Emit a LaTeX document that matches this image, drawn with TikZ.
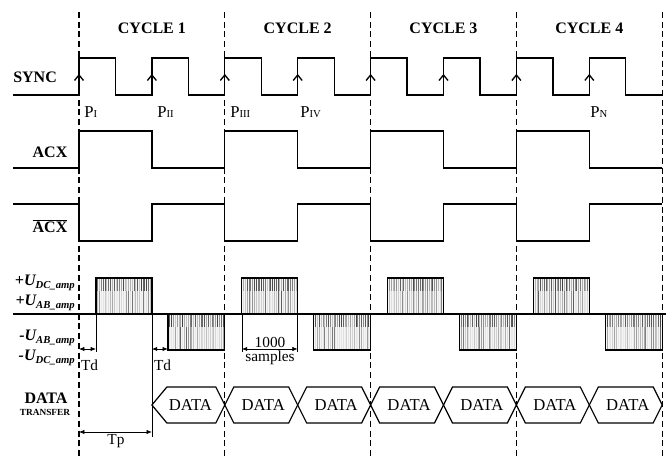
\documentclass[tikz,border=0pt]{standalone}
\usepackage{fontspec}
\setmainfont{Liberation Serif}
\usetikzlibrary{arrows.meta}

% one amplitude burst: left x, right x, outer level, top of the darker band
\newcommand{\burst}[4]{%
  \pgfmathsetmacro{\ba}{#1}
  \pgfmathsetmacro{\bb}{#2}
  \fill[black!4] (\ba,314) rectangle (\bb,#3);
  \foreach \k in {1,...,30}{
    \pgfmathsetmacro{\bx}{\ba+\k*(\bb-\ba)/31}
    \pgfmathtruncatemacro{\bg}{8+62*rnd*rnd}
    \draw[black!\bg, line width=0.5pt] (\bx,314) -- (\bx,#3);
    \pgfmathtruncatemacro{\bh}{20+55*rnd}
    \draw[black!\bh, line width=0.5pt] (\bx,#4) -- (\bx,#4+13);
  }
  \draw[sig] (\ba,314) -- (\ba,#3) -- (\bb,#3) -- (\bb,314);
}

\begin{document}
\begin{tikzpicture}[x=0.75pt, y=-0.75pt,
  font=\fontsize{11.5}{13}\selectfont,
  sig/.style={line width=1pt},
  cyc/.style={line width=0.9pt, dash pattern=on 4.5pt off 2.8pt},
  lbl/.style={font=\bfseries\fontsize{12}{14}\selectfont},
  vlt/.style={font=\bfseries\itshape\fontsize{12}{14}\selectfont, anchor=east, inner sep=1pt},
  pl/.style={font=\fontsize{12.5}{14}\selectfont, anchor=west, inner sep=0pt},
  guide/.style={line width=0.45pt},
  dim/.style={{Latex[length=4pt,width=3.2pt]}-{Latex[length=4pt,width=3.2pt]}, line width=0.5pt},
  hexa/.style={line width=0.9pt},
  syncmark/.style={line width=1pt},
]
\useasboundingbox (0,0) rectangle (669,459);
\pgfmathsetseed{17}

\def\tc{145.8} % cycle width
\def\th{72.9}  % half cycle

%% --- Cycle borders and headers ---
\foreach \k in {0,...,4}
  \draw[cyc] ({79+\tc*\k},12) -- ({79+\tc*\k},459);
\foreach \k in {1,...,4}
  \node[lbl] (cyc\k) at ({79+\tc*(\k-1)+\th},28) {CYCLE \k};

%% --- SYNC ---
\node[lbl, anchor=west, inner sep=0pt] (sync) at (13,77) {SYNC};
\draw[sig] (13,95) \foreach \k in {0,...,7}{
  -- ({79+\th*\k},95) -- ({79+\th*\k},58) -- ({79+\th*\k+36.5},58) -- ({79+\th*\k+36.5},95)
} -- (662,95);
% rising-edge marks
\foreach \k in {0,...,7}
  \draw[syncmark] ({79+\th*\k-4.5},80.5) -- ({79+\th*\k},75) -- ({79+\th*\k+4.5},80.5);
\node[pl] (p1) at (84,112) {P{\fontsize{8}{9}\selectfont I}};
\node[pl] (p2) at (157,112) {P{\fontsize{8}{9}\selectfont II}};
\node[pl] (p3) at (230,112) {P{\fontsize{8}{9}\selectfont III}};
\node[pl] (p4) at (300,112) {P{\fontsize{8}{9}\selectfont IV}};
\node[pl] (pn) at (590,112) {P{\fontsize{8}{9}\selectfont N}};

%% --- ACX and its inverse ---
\node[lbl] (acx) at (50,152) {ACX};
\draw[sig] (13,168) \foreach \k in {0,...,3}{
  -- ({79+\tc*\k},168) -- ({79+\tc*\k},131) -- ({79+\tc*\k+\th},131) -- ({79+\tc*\k+\th},168)
} -- (662,168);
\node[lbl] (acxn) at (50,226) {$\overline{\mbox{ACX}}$};
\draw[sig] (13,204) \foreach \k in {0,...,3}{
  -- ({79+\tc*\k},204) -- ({79+\tc*\k},241) -- ({79+\tc*\k+\th},241) -- ({79+\tc*\k+\th},204)
} -- (662,204);

%% --- Output amplitude ---
\node[vlt] (udcp) at (77,283) {+U\textsubscript{DC\_amp}};
\node[vlt] (uabp) at (77,303) {+U\textsubscript{AB\_amp}};
\node[vlt] (uabn) at (77,338) {-U\textsubscript{AB\_amp}};
\node[vlt] (udcn) at (77,358) {-U\textsubscript{DC\_amp}};
\foreach \k in {0,...,3}{
  \pgfmathsetmacro{\xa}{79+\tc*\k}
  \burst{\xa+17}{\xa+\th}{278}{278}
  \burst{\xa+\th+16}{\xa+\tc}{350}{314}
}
\draw[sig] (13,314) -- (666,314);

% delays and burst length
\draw[guide] (96,314) -- (96,352);
\draw[guide] (151.9,314) -- (151.9,437);
\draw[guide] (241.9,314) -- (241.9,352);
\draw[guide] (297.7,314) -- (297.7,352);
\coordinate (tda) at (79,349);
\coordinate (tdb) at (96,349);
\coordinate (tdc) at (151.9,349);
\coordinate (tdd) at (167.9,349);
\coordinate (sma) at (241.9,349);
\coordinate (smb) at (297.7,349);
\coordinate (tpa) at (79,432);
\coordinate (tpb) at (151.9,432);
\draw[dim] (tda) -- (tdb);
\draw[dim] (tdc) -- (tdd);
\draw[dim] (sma) -- (smb);
\draw[dim] (tpa) -- (tpb);
\node[anchor=west, inner sep=1pt] (td1) at (79.5,365) {Td};
\node[anchor=west, inner sep=1pt] (td2) at (152.5,365) {Td};
\node[inner sep=0pt] (n1000) at (270,342) {1000};
\node[inner sep=0pt] (nsmp) at (270,358) {samples};
\node[inner sep=0pt] (tp) at (116,441) {Tp};

%% --- Data transfer ---
\node[lbl] (dt) at (46,398) {DATA};
\node[font=\bfseries\fontsize{7}{8}\selectfont] (tr) at (45,412) {TRANSFER};
\foreach \j in {0,...,6}{
  \pgfmathsetmacro{\xa}{79+\th*(\j+1)}
  \pgfmathsetmacro{\xb}{\xa+\th}
  \pgfmathsetmacro{\sl}{\j==0 ? 15 : 9}
  \draw[hexa] (\xa,405) -- (\xa+\sl,387) -- (\xb-9,387) -- (\xb,405)
    -- (\xb-9,423) -- (\xa+\sl,423) -- cycle;
  \node[font=\fontsize{12.5}{14}\selectfont] (data\j) at ({(\xa+\xb)/2+2},405) {DATA};
}

\end{tikzpicture}
\end{document}
